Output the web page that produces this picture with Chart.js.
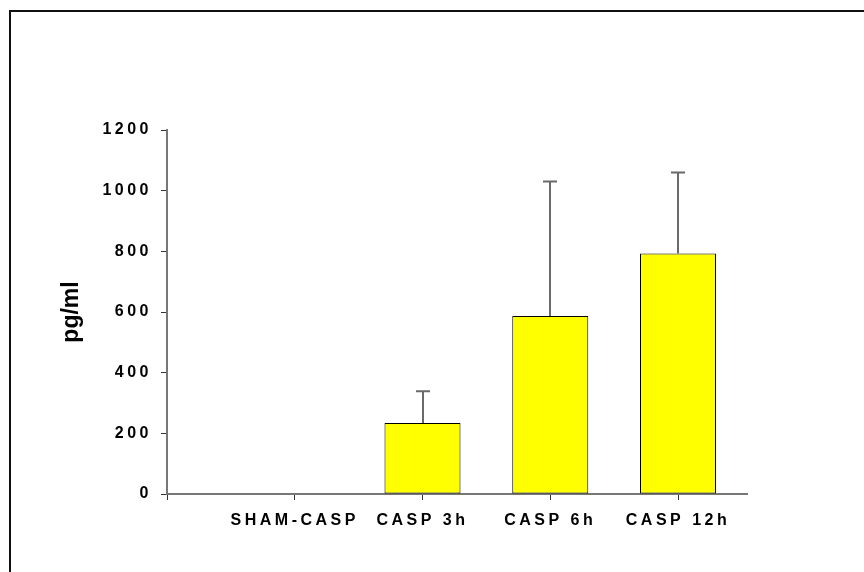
<!DOCTYPE html>
<html>
<head>
<meta charset="utf-8">
<script src="https://cdn.jsdelivr.net/npm/chart.js@4/dist/chart.umd.min.js"></script>
<style>
  html, body { margin: 0; padding: 0; background: #ffffff; }
  #wrap { width: 864px; height: 572px; position: relative; }
</style>
</head>
<body>
<div id="wrap"><canvas id="c" width="864" height="572"></canvas></div>
<script>
// ---- data ----
const categories = ["SHAM-CASP", "CASP 3h", "CASP 6h", "CASP 12h"];
const positions  = [1, 2, 3, 4];
const meanValues = [0, 234, 587, 793];
const errorValues = [0, 105, 443, 267];
const yTicks = [0, 200, 400, 600, 800, 1000, 1200];
const yTitle = "pg/ml";

const points = positions.map((p, i) => ({ x: p, y: meanValues[i] }));

const framePlugin = {
  id: 'frame',
  beforeDraw(chart) {
    const ctx = chart.ctx;
    ctx.save();
    ctx.fillStyle = '#ffffff';
    ctx.fillRect(0, 0, chart.width, chart.height);
    ctx.strokeStyle = '#111111';
    ctx.lineWidth = 2;
    ctx.strokeRect(10, 11, 1000, 1000);
    ctx.restore();
  },
  afterUpdate(chart) {
    ['x', 'y'].forEach(id => {
      const s = chart.scales[id];
      if (!s || s._spacedLabels) return;
      const orig = s.drawLabels;
      s.drawLabels = function (area) {
        const ctx = this.ctx;
        ctx.save();
        ctx.letterSpacing = '3.5px';
        orig.call(this, area);
        ctx.restore();
      };
      s._spacedLabels = true;
    });
  }
};

const errorBarPlugin = {
  id: 'errorBars',
  afterDatasetsDraw(chart) {
    const ctx = chart.ctx;
    const xs = chart.scales.x, ys = chart.scales.y;
    ctx.save();
    ctx.strokeStyle = '#6a6a6a';
    ctx.lineWidth = 2;
    positions.forEach((p, i) => {
      if (!errorValues[i]) return;
      const x = Math.round(xs.getPixelForValue(p));
      const y0 = ys.getPixelForValue(meanValues[i]);
      const y1 = ys.getPixelForValue(meanValues[i] + errorValues[i]);
      ctx.beginPath();
      ctx.moveTo(x, y0);
      ctx.lineTo(x, y1);
      ctx.moveTo(x - 7, y1);
      ctx.lineTo(x + 7, y1);
      ctx.stroke();
    });
    ctx.restore();
  }
};

new Chart(document.getElementById('c'), {
  type: 'bar',
  data: {
    datasets: [{
      data: points,
      backgroundColor: '#ffff00',
      borderColor: '#000000',
      borderWidth: 1,
      borderSkipped: false,
      categoryPercentage: 1.0,
      barPercentage: 0.595
    }]
  },
  options: {
    responsive: false,
    devicePixelRatio: 1,
    animation: false,
    layout: { padding: { top: 130, right: 117, bottom: 0, left: 0 } },
    plugins: { legend: { display: false }, tooltip: { enabled: false }, title: { display: false } },
    scales: {
      x: {
        type: 'linear',
        min: 0,
        max: 4.54,
        offset: false,
        afterFit(s) { s.height = 78; },
        afterBuildTicks(s) { s.ticks = [0, ...positions].map(v => ({ value: v })); },
        grid: { display: true, offset: false, drawOnChartArea: false, drawTicks: true, tickLength: 6, color: '#333333', lineWidth: 1 },
        border: { display: true, color: '#777777', width: 2 },
        ticks: {
          includeBounds: false,
          autoSkip: false,
          maxRotation: 0,
          padding: 11,
          color: '#000000',
          font: { family: '"Liberation Sans", Arial, sans-serif', size: 16, weight: 'bold' },
          callback(v) { const i = positions.indexOf(v); return i >= 0 ? categories[i] : ''; }
        }
      },
      y: {
        min: 0,
        max: 1200,
        afterFit(s) { s.width = 167; },
        afterBuildTicks(s) { s.ticks = yTicks.map(v => ({ value: v })); },
        grid: { display: true, drawOnChartArea: false, drawTicks: true, tickLength: 6, color: '#333333', lineWidth: 1 },
        border: { display: true, color: '#777777', width: 2 },
        ticks: {
          padding: 9,
          color: '#000000',
          font: { family: '"Liberation Sans", Arial, sans-serif', size: 16, weight: 'bold' },
          callback(v) { return String(v); }
        },
        title: {
          display: true,
          text: yTitle,
          color: '#000000',
          padding: { top: 58, bottom: 0 },
          font: { family: '"Liberation Sans", Arial, sans-serif', size: 23, weight: 'bold' }
        }
      }
    }
  },
  plugins: [framePlugin, errorBarPlugin]
});
</script>
</body>
</html>
